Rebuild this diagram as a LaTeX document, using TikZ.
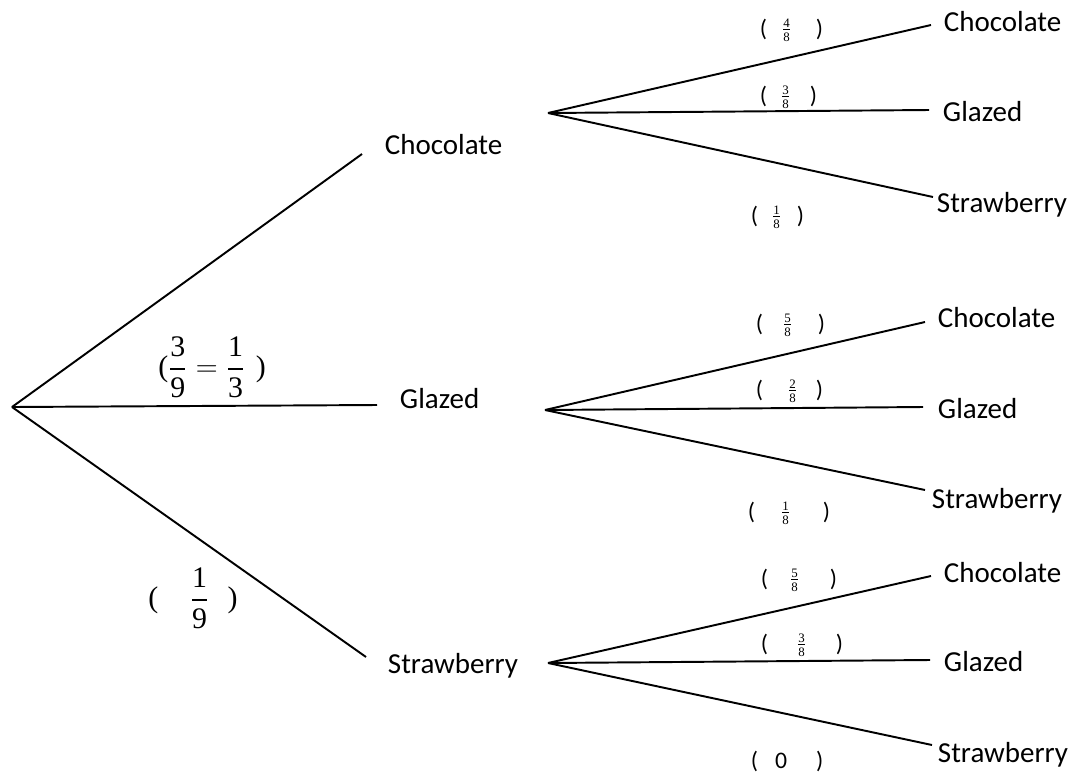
\documentclass[tikz,border=0pt]{standalone}
\usepackage{amsmath}
\usepackage{fontspec}
\setmainfont{Carlito}
\newfontfamily\tms{Liberation Serif}
\newlength\px \setlength\px{0.02cm}
\newcommand{\tfr}[2]{\frac{\text{\tms #1}}{\text{\tms #2}}}
\newcommand{\dtfr}[2]{\dfrac{\text{\tms #1}}{\text{\tms #2}}}
\newcommand{\pb}[3]{(\hspace{#1\px}$\vcenter{\hbox{\fontsize{10.5}{11}\selectfont$\tfr{#2}{8}$}}$\hspace{#3\px})}

\begin{document}
\begin{tikzpicture}[x=0.02cm,y=-0.02cm,line width=1.1pt,
  lbl/.style={anchor=base west,inner sep=0pt,font=\fontsize{16.5}{20}\selectfont},
  prob/.style={anchor=west,inner sep=0pt,font=\fontsize{13.5}{16}\selectfont},
  bigprob/.style={inner sep=0pt,font=\fontsize{17}{20}\selectfont\tms}]
  \useasboundingbox (0,0) rectangle (1076,775);
  % first pick
  \coordinate (r) at (12,407);
  \coordinate (e1) at (362,154); \coordinate (e2) at (377,405); \coordinate (e3) at (366,657);
  \draw (r)--(e1); \draw (r)--(e2); \draw (r)--(e3);
  \node[lbl] (ch) at (384,154){Chocolate};
  \node[lbl] (gl) at (399,408){Glazed};
  \node[lbl] (st) at (387,673){Strawberry};
  \node[bigprob] (pgl) at (212,367){($\dtfr{3}{9}=\dtfr{1}{3}$\hspace{6pt})};
  \node[bigprob] (pst) at (193,598){(\hspace{18pt}$\dtfr{1}{9}$\hspace{10.5pt})};
  % second pick after chocolate
  \coordinate (b1) at (548,113);
  \coordinate (b1a) at (931,25); \coordinate (b1b) at (929,110); \coordinate (b1c) at (933,197);
  \draw (b1)--(b1a); \draw (b1)--(b1b); \draw (b1)--(b1c);
  \node[lbl] (chch) at (943,31){Chocolate};
  \node[lbl] (chgl) at (942,121){Glazed};
  \node[lbl] (chst) at (936,212){Strawberry};
  \node[prob] (pchch) at (759,30){\pb{14}{4}{24}};
  \node[prob] (pchgl) at (759,97){\pb{13}{3}{19}};
  \node[prob] (pchst) at (750,217){\pb{13}{1}{15}};
  % second pick after glazed
  \coordinate (b2) at (545,410);
  \coordinate (b2a) at (925,322); \coordinate (b2b) at (923,407); \coordinate (b2c) at (925,490);
  \draw (b2)--(b2a); \draw (b2)--(b2b); \draw (b2)--(b2c);
  \node[lbl] (glch) at (937,327){Chocolate};
  \node[lbl] (glgl) at (937,418){Glazed};
  \node[lbl] (glst) at (931,508){Strawberry};
  \node[prob] (pglch) at (755,325){\pb{19}{5}{25}};
  \node[prob] (pglgl) at (755,391){\pb{24}{2}{18}};
  \node[prob] (pglst) at (747,513){\pb{25}{1}{32}};
  % second pick after strawberry
  \coordinate (b3) at (548,663);
  \coordinate (b3a) at (931,576); \coordinate (b3b) at (930,660); \coordinate (b3c) at (932,745);
  \draw (b3)--(b3a); \draw (b3)--(b3b); \draw (b3)--(b3c);
  \node[lbl] (stch) at (943,582){Chocolate};
  \node[lbl] (stgl) at (943,671){Glazed};
  \node[lbl] (stst) at (937,762){Strawberry};
  \node[prob] (pstch) at (760,580){\pb{21}{5}{30}};
  \node[prob] (pstgl) at (760,645){\pb{28}{3}{29}};
  \node[prob] (pstst) at (750,761){(\hspace{17\px}0\hspace{29\px})};
\end{tikzpicture}
\end{document}
